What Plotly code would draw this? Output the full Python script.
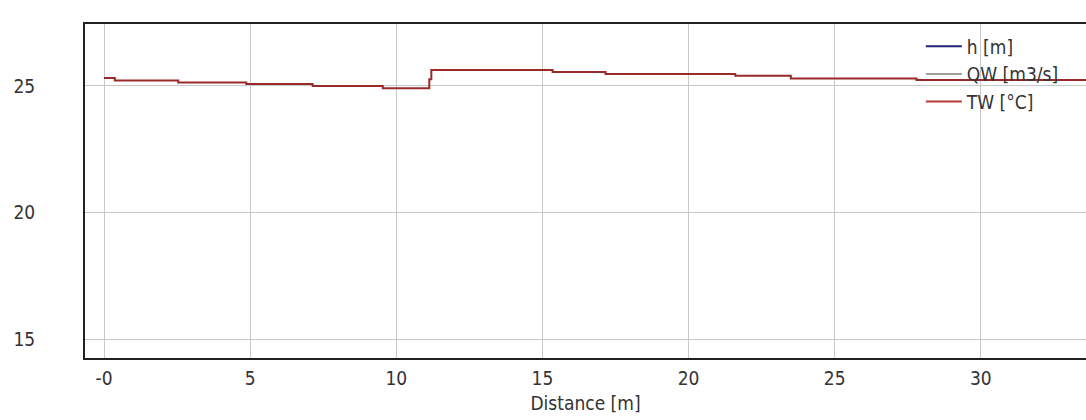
import plotly.graph_objects as go

# Step profile of water temperature along the distance axis
step_x = [0.0, 0.37, 2.54, 4.87, 7.14, 9.54, 11.13, 11.2, 15.35, 17.16, 21.6, 23.5, 27.8, 33.6]
tw_vals = [25.32, 25.22, 25.14, 25.08, 25.00, 24.91, 25.27, 25.63, 25.55, 25.47, 25.40, 25.30, 25.24, 25.24]

x_ticks = [0, 5, 10, 15, 20, 25, 30]
x_tick_labels = ["-0", "5", "10", "15", "20", "25", "30"]
y_ticks = [15, 20, 25]
y_tick_labels = ["15", "20", "25"]

series_names = ["h [m]", "QW [m3/s]", "TW [°C]"]
series_colors = ["#23237a", "#a0a0a0", "#b83a3a"]

FONT = "DejaVu Sans Condensed, DejaVu Sans, sans-serif"

fig = go.Figure()
fig.add_trace(go.Scatter(x=[None], y=[None], mode="lines", name=series_names[0],
                         line=dict(color=series_colors[0], width=2)))
fig.add_trace(go.Scatter(x=[None], y=[None], mode="lines", name=series_names[1],
                         line=dict(color=series_colors[1], width=2)))
fig.add_trace(go.Scatter(x=step_x, y=tw_vals, mode="lines", name=series_names[2],
                         line=dict(color="#9a2a2a", width=2, shape="hv"),
                         showlegend=False))
fig.add_trace(go.Scatter(x=[None], y=[None], mode="lines", name=series_names[2],
                         line=dict(color=series_colors[2], width=2)))

fig.update_layout(
    width=1086, height=420,
    margin=dict(l=85, r=0, t=24, b=62),
    paper_bgcolor="white", plot_bgcolor="white",
    font=dict(family=FONT, size=19, color="#333333"),
    showlegend=True,
    legend=dict(x=0.835, y=0.99, xanchor="left", yanchor="top",
                bgcolor="rgba(0,0,0,0)", font=dict(size=19, color="#333333"),
                tracegroupgap=0, itemwidth=36),
    xaxis=dict(range=[-0.65, 33.6], tickvals=x_ticks, ticktext=x_tick_labels,
               showgrid=True, gridcolor="#c8c8c8", gridwidth=1,
               showline=True, linecolor="#222222", linewidth=2, mirror=True,
               ticks="outside", ticklen=2, tickcolor="rgba(0,0,0,0)",
               zeroline=False, automargin=False,
               title=dict(text="Distance [m]", standoff=9, font=dict(size=19))),
    yaxis=dict(range=[14.25, 27.45], tickvals=y_ticks, ticktext=y_tick_labels,
               showgrid=True, gridcolor="#c8c8c8", gridwidth=1,
               showline=True, linecolor="#222222", linewidth=2, mirror=False,
               ticks="outside", ticklen=44, tickcolor="rgba(0,0,0,0)",
               zeroline=False, automargin=False),
)

fig.write_html("out.html", config={"displayModeBar": False},
               post_script="document.body.style.margin='0';document.body.style.padding='0';")
